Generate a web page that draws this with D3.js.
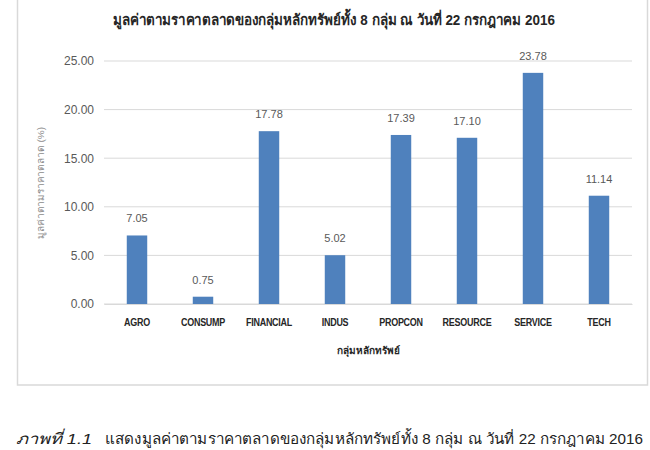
<!DOCTYPE html>
<html><head><meta charset="utf-8">
<script src="https://cdn.jsdelivr.net/npm/d3@7"></script>
<style>body{margin:0;background:#fff}svg{display:block}</style>
</head><body>
<script>
const categories = ["AGRO","CONSUMP","FINANCIAL","INDUS","PROPCON","RESOURCE","SERVICE","TECH"];
const values = [7.05,0.75,17.78,5.02,17.39,17.10,23.78,11.14];
const yTicks = [0,5,10,15,20,25];
const title = "มูลค่าตามราคาตลาดของกลุ่มหลักทรัพย์ทั้ง 8 กลุ่ม ณ วันที่ 22 กรกฎาคม 2016";
const xTitle = "กลุ่มหลักทรัพย์";
const yTitle = "มูลค่าตามราคาตลาด (%)";
const captionLabel = "ภาพที่ 1.1";
const captionText = "แสดงมูลค่าตามราคาตลาดของกลุ่มหลักทรัพย์ทั้ง 8 กลุ่ม ณ วันที่ 22 กรกฎาคม 2016";

const W = 650, H = 450;
const svg = d3.select("body").append("svg").attr("width", W).attr("height", H);
const font = "'Liberation Sans', 'Noto Sans', sans-serif";

// chart frame
svg.append("rect").attr("x",17.5).attr("y",-2).attr("width",630).attr("height",387)
  .attr("fill","#fff").attr("stroke","#d9d9d9").attr("stroke-width",1.5);

const x = d3.scaleBand().domain(categories).range([104,632]).paddingInner(0.69).paddingOuter(0.345);
const y = d3.scaleLinear().domain([0,25]).range([304,61]);

// gridlines
svg.append("g").selectAll("line").data(yTicks).join("line")
  .attr("x1",104).attr("x2",632).attr("y1",d=>y(d)).attr("y2",d=>y(d))
  .attr("stroke","#d9d9d9").attr("stroke-width",1);

// y axis labels
const yAxis = svg.append("g").attr("transform","translate(94,0)")
  .call(d3.axisLeft(y).tickValues(yTicks).tickFormat(d3.format(".2f")).tickSize(0).tickPadding(0));
yAxis.select(".domain").remove();
yAxis.selectAll("text").attr("font-family",font).attr("font-size",12).attr("fill","#595959");

// bars
svg.append("g").selectAll("rect").data(values).join("rect")
  .attr("x",(d,i)=>x(categories[i])).attr("width",x.bandwidth())
  .attr("y",d=>y(d)).attr("height",d=>y(0)-y(d)).attr("fill","#4f81bd");

// value labels
svg.append("g").selectAll("text").data(values).join("text")
  .attr("x",(d,i)=>x(categories[i])+x.bandwidth()/2).attr("y",d=>y(d)-13)
  .attr("text-anchor","middle").attr("font-family",font).attr("font-size",11).attr("fill","#595959")
  .text(d=>d3.format(".2f")(d));

// x axis
const xAxis = svg.append("g").attr("transform","translate(0,304)")
  .call(d3.axisBottom(x).tickSize(0).tickPadding(14));
xAxis.select(".domain").attr("stroke","#d9d9d9");
xAxis.selectAll("text").attr("font-family",font).attr("font-size",11.5).attr("font-weight","bold")
  .attr("fill","#262626").attr("letter-spacing","-0.3").attr("transform","scale(0.78,1)");

// titles
svg.append("text").attr("x",334).attr("y",25).attr("text-anchor","middle")
  .attr("font-family",font).attr("font-size",15).attr("font-weight","bold").attr("fill","#262626")
  .attr("textLength",442).attr("lengthAdjust","spacingAndGlyphs").text(title);
svg.append("text").attr("x",368).attr("y",354).attr("text-anchor","middle")
  .attr("font-family",font).attr("font-size",10).attr("font-weight","bold").attr("fill","#262626").text(xTitle);
svg.append("text").attr("transform","translate(44,183) rotate(-90)").attr("text-anchor","middle")
  .attr("font-family",font).attr("font-size",9).attr("fill","#8c8c8c")
  .attr("textLength",112).attr("lengthAdjust","spacingAndGlyphs").text(yTitle);

// caption
svg.append("text").attr("x",16).attr("y",444)
  .attr("font-family",font).attr("font-size",15).attr("font-style","italic").attr("fill","#222")
  .attr("textLength",76).attr("lengthAdjust","spacingAndGlyphs").text(captionLabel);
svg.append("text").attr("x",105).attr("y",444)
  .attr("font-family",font).attr("font-size",15).attr("fill","#222")
  .attr("textLength",538).attr("lengthAdjust","spacingAndGlyphs").text(captionText);
</script>
</body></html>
